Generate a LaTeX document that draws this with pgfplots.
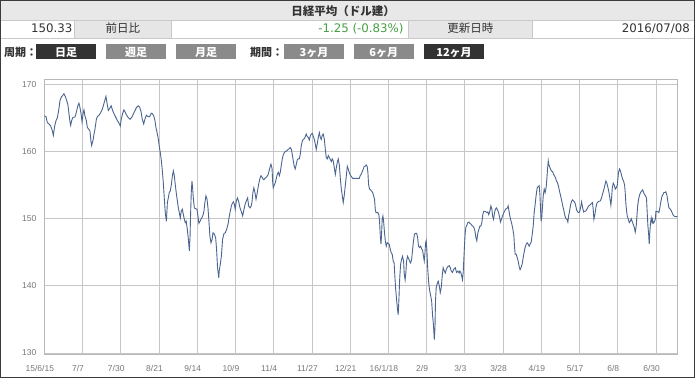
\documentclass[border=0pt]{standalone}
\usepackage{fontspec}
\usepackage{pgfplots}
\pgfplotsset{compat=1.18}
\setmainfont{DejaVu Sans}
\newfontfamily\jp{Noto Sans CJK JP}
\newfontfamily\tickf{Liberation Sans}
\definecolor{hdr}{HTML}{E8E8E8}
\definecolor{cellg}{HTML}{E6E6E6}
\definecolor{cellb}{HTML}{C9C9C9}
\definecolor{textc}{HTML}{333333}
\definecolor{greenc}{HTML}{44A044}
\definecolor{btnd}{HTML}{333333}
\definecolor{btng}{HTML}{8A8A8A}
\definecolor{gridc}{HTML}{C6C6C6}
\definecolor{axc}{HTML}{B8B8B8}
\definecolor{tickc}{HTML}{777777}
\definecolor{linec}{HTML}{4A6590}
\definecolor{borderc}{HTML}{3C3C3C}
\begin{document}
\begin{tikzpicture}[x=1pt,y=1pt]
\useasboundingbox (0,0) rectangle (695,378);
\fill[white] (0,0) rectangle (695,378);
% header rows
\fill[hdr] (1,358) rectangle (694,377);
\fill[cellg] (74,340) rectangle (171.7,358);
\fill[cellg] (408.7,340) rectangle (532,358);
\draw[cellb, line width=0.8pt] (1,358) -- (694,358);
\draw[cellb, line width=0.8pt] (1,340) -- (694,340);
\foreach \xx in {74,171.7,408.7,532} \draw[cellb, line width=0.8pt] (\xx,340) -- (\xx,358);
\node[anchor=base, inner sep=0pt, text=textc, font=\jp\bfseries\fontsize{11.5}{13}\selectfont] at (343,362) {日経平均（ドル建）};
\node[anchor=base east, inner sep=0pt, text=textc, font=\fontsize{11.8}{13}\selectfont] at (72.6,345) {150.33};
\node[anchor=base, inner sep=0pt, text=textc, font=\jp\fontsize{11.5}{13}\selectfont] at (122.8,345) {前日比};
\node[anchor=base east, inner sep=0pt, text=greenc, font=\fontsize{11.8}{13}\selectfont] at (403.7,345) {-1.25 (-0.83\%)};
\node[anchor=base, inner sep=0pt, text=textc, font=\jp\fontsize{11.5}{13}\selectfont] at (470.3,345) {更新日時};
\node[anchor=base east, inner sep=0pt, text=textc, font=\fontsize{11.8}{13}\selectfont] at (690,345) {2016/07/08};
% buttons row
\node[anchor=base west, inner sep=0pt, text=textc, font=\jp\bfseries\fontsize{11}{13}\selectfont] at (4,321.5) {周期：};
\node[anchor=base west, inner sep=0pt, text=textc, font=\jp\bfseries\fontsize{11}{13}\selectfont] at (250,321.5) {期間：};
\fill[btnd] (36,319) rectangle (96,334);
\fill[btng] (106,319) rectangle (166,334);
\fill[btng] (176,319) rectangle (236,334);
\fill[btng] (284,319) rectangle (344,334);
\fill[btng] (353.7,319) rectangle (413.7,334);
\fill[btnd] (424.3,319) rectangle (483.7,334);
\foreach \cx/\tt in {66/日足,136/週足,206/月足,314/3ヶ月,383.7/6ヶ月,454/12ヶ月}
  \node[anchor=base, inner sep=0pt, text=white, font=\jp\bfseries\fontsize{11}{13}\selectfont] at (\cx,321.5) {\tt};
% chart
\begin{axis}[
  at={(44.3pt,24pt)}, anchor=south west, scale only axis,
  width=633pt, height=274.5pt,
  xmin=0, xmax=264.9, ymin=129.85, ymax=170.72,
  xtick={0,16,...,256},
  xticklabels={15/6/15,7/7,7/30,8/21,9/14,10/9,11/4,11/27,12/21,16/1/18,2/9,3/3,3/28,4/19,5/17,6/8,6/30},
  ytick={130,140,150,160,170},
  grid=major, major grid style={draw=gridc, line width=0.8pt},
  axis line style={draw=axc, line width=0.8pt},
  major tick length=0pt, tick style={draw=none},
  ticklabel style={font=\tickf\fontsize{8.5}{10}\selectfont, text=tickc},
  /pgf/number format/assume math mode=true,
  xticklabel style={anchor=north, inner sep=0pt, yshift=-11pt, xshift=-4.5pt},
  yticklabel style={anchor=east, inner sep=0pt, xshift=-7.8pt},
]
\addplot[color=linec, line width=0.9pt, mark=none] coordinates {
(0,165.3)(0.7,165.2)(1.27,164.3)(1.97,164.1)(2.66,163.8)(3.36,163.1)(3.78,162.4)(4.34,163.8)(4.9,164.6)(5.45,165.0)(6.01,166.1)(6.57,167.6)(7.13,168.1)(7.82,168.4)(8.24,168.6)(8.8,168.2)(9.36,167.6)(9.92,166.9)(10.33,165.6)(10.75,164.4)(11.03,163.9)(11.45,164.6)(12.0,165.1)(12.7,165.1)(13.1,165.4)(13.7,166.3)(14.1,166.9)(14.5,167.2)(14.9,166.6)(15.4,165.6)(15.8,164.4)(16.2,165.6)(16.6,166.2)(17.0,165.3)(17.6,164.6)(18.0,163.6)(18.6,163.3)(19.1,163.1)(19.5,161.6)(19.8,160.9)(20.4,161.7)(20.8,162.6)(21.2,163.3)(21.8,164.8)(22.2,165.2)(22.9,165.4)(23.6,165.8)(24.3,166.3)(25.0,167.2)(25.4,167.7)(25.8,168.2)(26.2,167.3)(26.8,166.1)(27.35,166.4)(28.0,166.8)(28.6,166.1)(29.2,165.6)(29.9,165.1)(30.6,164.6)(31.3,164.2)(31.8,163.8)(32.2,164.8)(32.8,165.7)(33.3,166.2)(33.9,165.8)(34.5,165.4)(35.0,165.1)(35.9,164.8)(36.6,165.1)(37.3,165.6)(37.95,166.1)(38.65,166.6)(39.35,166.8)(39.9,166.6)(40.5,165.9)(41.0,164.8)(41.6,164.1)(42.1,164.8)(42.7,165.4)(43.4,165.2)
(44.1,165.2)(44.8,165.7)(45.3,165.6)(45.9,165.2)(46.3,164.6)(46.7,163.6)(47.2,162.8)(47.7,161.9)(48.1,160.8)(48.55,159.8)(49.0,158.6)(49.4,157.1)(49.8,155.4)(50.2,153.1)(50.6,151.0)(51.1,149.6)(51.5,152.4)(51.9,153.1)(52.3,153.9)(52.7,154.1)(53.2,155.1)(53.6,156.4)(54.0,157.1)(54.4,156.4)(54.8,155.1)(55.2,153.9)(55.7,152.6)(56.1,151.6)(56.5,150.9)(56.9,150.1)(57.3,151.1)(57.75,151.4)(58.2,150.6)(58.6,149.9)(59.0,149.4)(59.4,149.6)(59.85,148.4)(60.3,146.9)(60.7,145.2)(61.0,147.4)(61.2,150.4)(61.5,153.9)(61.8,155.6)(62.1,154.4)(62.4,152.9)(62.8,151.6)(63.3,151.5)(63.9,151.4)(64.3,150.4)(64.7,149.3)(65.15,149.6)(65.7,150.0)(66.3,150.4)(66.8,151.1)(67.2,152.4)(67.65,153.4)(68.1,152.9)(68.5,151.6)(68.9,149.6)(69.3,147.4)(69.75,146.4)(70.2,146.9)(70.6,147.9)(71.15,147.7)(71.7,147.2)(72.1,145.4)(72.5,142.7)(73.0,141.2)(73.2,142.2)(73.65,143.2)(74.1,144.4)(74.6,146.9)(75.2,147.8)(75.75,147.9)(76.3,148.4)(76.9,149.2)(77.3,150.1)(77.7,150.9)(78.3,151.9)(78.7,152.3)(79.1,152.5)(79.5,152.2)(79.9,151.4)(80.35,152.6)(80.8,153.1)(81.3,152.6)(81.9,151.6)(82.4,151.1)(83.0,150.4)(83.4,151.1)(84.0,152.1)(84.5,152.6)(85.1,153.1)(85.5,151.9)(86.1,151.6)(86.6,151.9)
(86.9,152.4)(87.3,153.9)(87.7,154.6)(88.15,153.9)(88.6,152.9)(89.0,153.6)(89.4,154.5)(89.8,155.3)(90.25,156.0)(90.7,156.4)(91.1,156.2)(91.5,155.9)(91.9,155.8)(92.3,156.0)(92.75,156.1)(93.2,156.3)(93.6,156.5)(94.0,157.0)(94.4,157.6)(94.85,158.1)(95.3,157.5)(95.55,155.6)(95.8,154.6)(96.25,155.0)(96.7,155.4)(97.1,156.0)(97.5,156.6)(97.9,156.9)(98.35,156.4)(98.8,157.0)(99.2,158.0)(99.6,158.9)(100.0,159.5)(100.4,159.8)(100.85,160.0)(101.4,160.1)(102.0,160.3)(102.5,160.4)(102.9,160.6)(103.4,160.3)(103.8,159.5)(104.2,158.6)(104.6,157.8)(105.0,157.4)(105.45,158.1)(105.9,158.8)(106.3,158.9)(106.7,158.9)(107.1,159.5)(107.5,160.8)(108.0,161.6)(108.4,161.8)(108.8,161.9)(109.2,162.2)(109.6,162.6)(110.05,162.2)(110.5,162.1)(110.9,161.7)(111.3,162.3)(111.7,162.6)(112.15,162.7)(112.6,162.2)(113.0,161.8)(113.4,161.1)(113.8,160.3)(114.2,161.1)(114.65,162.1)(115.1,162.8)(115.5,162.1)(115.9,161.8)(116.3,162.4)(116.75,162.6)(117.2,161.8)(117.6,160.3)(118.0,159.1)(118.4,158.9)(118.85,159.4)(119.3,159.1)(119.7,158.8)(120.1,158.5)(120.5,158.9)(120.9,158.6)(121.35,157.6)(121.8,156.6)(122.2,157.6)(122.6,158.4)(123.0,158.9)(123.45,158.0)(123.9,155.9)(124.3,154.4)(124.7,153.4)(125.1,152.4)(125.5,153.4)(125.95,154.9)(126.4,156.4)(126.8,157.8)(127.2,157.4)(127.6,156.9)(128.0,156.5)(128.5,156.3)(129.0,156.0)(129.6,156.0)(130.1,156.0)
(130.4,156.0)(131.1,156.0)(131.8,156.0)(132.2,156.4)(132.6,156.6)(133.05,157.0)(133.5,157.4)(133.9,157.8)(134.3,157.8)(134.7,158.0)(135.1,157.8)(135.4,157.0)(135.7,155.1)(136.1,154.4)(136.5,154.3)(137.0,154.1)(137.4,153.9)(137.8,153.4)(138.2,152.9)(138.5,151.4)(138.8,150.9)(139.2,150.9)(139.6,150.9)(140.0,150.6)(140.3,149.6)(140.6,147.4)(140.9,146.2)(141.1,147.4)(141.4,149.9)(141.7,150.4)(142.0,149.6)(142.3,148.2)(142.7,146.7)(143.1,145.9)(143.5,146.4)(143.9,146.3)(144.35,146.2)(144.8,145.4)(145.2,144.9)(145.6,144.7)(146.0,143.7)(146.4,143.4)(146.7,141.4)(147.0,139.7)(147.4,138.0)(147.8,136.5)(148.1,135.7)(148.4,138.0)(148.7,140.9)(149.1,143.2)(149.5,143.9)(149.9,144.4)(150.35,143.7)(150.6,141.9)(151.0,140.9)(151.3,141.9)(151.6,143.7)(152.0,144.4)(152.4,144.1)(152.85,143.7)(153.3,143.4)(153.7,143.9)(154.1,145.3)(154.5,146.7)(154.9,147.7)(155.4,147.8)(155.8,147.8)(156.2,147.3)(156.6,145.9)(157.0,145.7)(157.5,145.9)(157.9,145.5)(158.3,145.3)(158.7,144.4)(159.0,143.7)(159.3,144.9)(159.55,146.4)(159.8,146.7)(160.1,145.4)(160.4,142.9)(160.8,140.7)(161.2,139.4)(161.6,138.7)(162.1,137.7)(162.5,135.5)(162.9,134.0)(163.2,132.0)(163.5,133.8)(163.7,137.7)(164.0,139.7)(164.4,140.3)(164.85,140.7)(165.3,140.0)(165.7,139.0)(166.1,139.7)(166.5,141.4)(166.9,142.7)(167.4,142.2)(167.8,141.9)(168.2,142.4)(168.6,142.7)(169.0,142.9)(169.45,143.0)(169.9,142.7)(170.3,142.2)(170.8,142.0)(171.4,142.5)(172.0,142.7)(172.5,142.0)(173.1,142.2)(173.6,141.9)
(173.9,142.2)(174.3,142.0)(174.7,141.4)(175.0,140.9)(175.3,142.0)(175.6,144.2)(175.9,146.4)(176.1,147.7)(176.4,148.7)(176.8,149.0)(177.25,149.4)(177.7,149.5)(178.1,149.3)(178.5,149.2)(178.9,149.0)(179.3,148.9)(179.75,148.7)(180.2,148.2)(180.6,147.2)(181.0,146.7)(181.4,147.8)(181.85,148.4)(182.3,148.9)(182.7,148.9)(183.1,149.4)(183.5,150.6)(183.9,151.1)(184.4,151.1)(184.8,151.0)(185.2,150.9)(185.6,151.0)(186.0,150.6)(186.45,151.1)(186.9,151.9)(187.3,151.4)(187.6,150.4)(188.0,149.9)(188.4,150.9)(188.8,151.4)(189.2,151.6)(189.7,151.3)(190.1,150.9)(190.5,150.3)(190.9,149.5)(191.3,149.9)(191.75,150.4)(192.2,150.8)(192.6,151.1)(193.0,151.4)(193.4,151.5)(193.8,151.6)(194.1,151.9)(194.5,151.1)(194.8,150.4)(195.2,149.8)(195.65,149.2)(196.1,148.4)(196.5,147.5)(196.8,145.7)(197.05,144.7)(197.5,144.7)(197.9,144.2)(198.3,143.7)(198.7,142.9)(199.1,142.4)(199.6,142.8)(200.0,143.3)(200.4,144.2)(200.8,145.0)(201.2,145.7)(201.65,146.2)(202.1,146.4)(202.5,146.2)(202.9,145.9)(203.3,146.2)(203.75,146.5)(204.2,147.7)(204.6,148.9)(205.0,150.9)(205.4,152.1)(205.8,153.4)(206.25,154.6)(206.7,154.8)(207.1,154.9)(207.4,153.6)(207.65,151.6)(207.9,149.6)(208.2,150.3)(208.5,151.9)(208.8,153.4)(209.2,154.4)(209.6,153.9)(210.0,154.6)(210.3,155.9)(210.6,157.4)(210.9,158.6)(211.1,158.1)(211.4,157.8)(211.8,157.4)(212.25,157.1)(212.7,157.0)(213.1,156.6)(213.5,156.4)(213.9,156.1)(214.35,155.6)(214.8,155.3)(215.2,154.8)(215.6,154.1)(216.0,153.5)(216.45,152.8)(216.9,152.0)(217.3,151.4)
(217.9,150.4)(218.3,150.0)(218.7,149.9)(219.1,149.5)(219.4,150.4)(219.8,151.1)(220.2,152.0)(220.65,152.6)(221.1,152.8)(221.5,152.6)(221.9,152.5)(222.3,152.1)(222.75,151.3)(223.2,151.0)(223.6,150.9)(224.0,151.0)(224.4,151.6)(224.85,152.5)(225.3,151.6)(225.7,151.0)(226.1,151.1)(226.5,151.1)(226.9,151.3)(227.35,151.6)(227.8,151.9)(228.2,152.0)(228.6,152.1)(229.0,152.3)(229.4,152.4)(229.7,151.4)(230.0,149.9)(230.4,150.6)(230.8,151.6)(231.25,152.3)(231.7,152.5)(232.1,152.6)(232.5,152.6)(232.9,152.8)(233.35,153.3)(233.8,153.9)(234.2,154.4)(234.6,155.0)(235.0,155.6)(235.4,155.3)(235.9,154.6)(236.3,153.9)(236.7,153.0)(237.1,152.0)(237.4,153.1)(237.7,154.6)(238.1,155.3)(238.5,155.0)(238.95,154.4)(239.35,154.6)(239.8,155.0)(240.05,156.0)(240.3,156.9)(240.75,157.4)(241.2,157.0)(241.6,156.4)(242.0,155.9)(242.4,155.6)(242.85,155.0)(243.1,153.9)(243.4,152.1)(243.7,151.1)(243.95,150.4)(244.4,149.9)(244.8,149.4)(245.2,149.6)(245.6,150.0)(246.0,149.6)(246.5,149.1)(246.9,148.7)(247.3,148.0)(247.7,148.9)(248.0,150.4)(248.3,151.9)(248.7,152.9)(249.1,153.5)(249.5,153.9)(249.95,154.1)(250.4,154.3)(250.8,153.9)(251.2,153.6)(251.6,153.4)(252.0,153.1)(252.3,150.9)(252.6,148.9)(252.9,147.7)(253.15,146.2)(253.4,148.0)(253.7,149.4)(254.0,150.1)(254.3,149.5)(254.55,149.9)(254.8,149.3)(255.25,149.5)(255.7,149.9)(255.95,151.1)(256.4,151.1)(256.8,151.0)(257.2,150.9)(257.6,151.6)(258.0,152.5)(258.45,153.3)(258.9,153.6)(259.3,153.9)(259.7,153.9)(260.1,154.0)(260.55,153.5)(260.95,152.5)(261.4,151.6)(261.8,151.5)(262.2,151.3)(262.6,151.0)(263.05,150.6)(263.5,150.4)(263.9,150.3)(264.3,150.3)(264.9,150.3)
};
\end{axis}
\draw[borderc, line width=1.2pt] (0.6,0.6) rectangle (694.4,377.4);
\end{tikzpicture}
\end{document}
